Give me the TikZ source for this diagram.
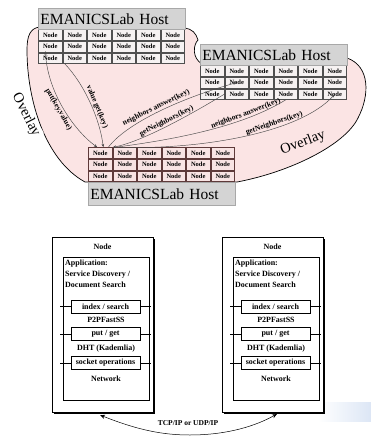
\documentclass[tikz,border=0pt]{standalone}
\usepackage{fontspec}
\setmainfont{Liberation Serif}
\usetikzlibrary{arrows.meta,shadows}
\definecolor{ovpink}{HTML}{FBE4E4}
\definecolor{hdrgray}{HTML}{D4D4D4}
\definecolor{hdrbrd}{HTML}{A8A8A8}
\definecolor{cellbrd}{HTML}{505050}
\definecolor{redbrd}{HTML}{5E3A3A}
\definecolor{cellpink}{HTML}{F8E4E4}
\definecolor{cellwhite}{HTML}{F6F2F2}
\definecolor{linegray}{HTML}{4A4A4A}
\definecolor{artblue}{HTML}{DCE6F5}
\begin{document}
\begin{tikzpicture}[x=1pt,y=-1pt,
  cell/.style={draw=#1, line width=0.5pt, minimum width=23.4pt, minimum height=10.6pt,
    inner sep=0pt, font=\fontsize{6.5}{6.5}\selectfont\bfseries},
  header/.style={draw=hdrbrd, fill=hdrgray, line width=0.6pt, anchor=north west,
    minimum width=147pt, text width=143pt, align=left, inner xsep=2pt, inner ysep=0pt,
    font=\fontsize{15.5}{15.5}\selectfont},
  lbl/.style={inner sep=1pt, sloped, font=\fontsize{7.6}{7.6}\selectfont\bfseries},
  ovl/.style={inner sep=1pt, font=\fontsize{14.5}{14.5}\selectfont},
  conn/.style={draw=linegray, line width=0.45pt},
  tip/.style={-{Stealth[length=3.5pt,width=2.6pt]}},
  outerbox/.style={draw, line width=0.6pt, fill=white, anchor=north west, inner sep=0pt,
    minimum width=101pt, minimum height=175pt,
    drop shadow={shadow xshift=1.6pt, shadow yshift=-1.6pt, fill=black, opacity=1}},
  innerbox/.style={draw, line width=0.5pt, fill=white, anchor=north west, inner sep=0pt,
    minimum width=86pt, minimum height=143pt,
    drop shadow={shadow xshift=1.2pt, shadow yshift=-1.2pt, fill=black, opacity=1}},
  ifbox/.style={draw, line width=0.5pt, fill=white, inner sep=0pt,
    minimum width=69pt, minimum height=13pt, font=\fontsize{8}{8}\selectfont\bfseries},
  boxtext/.style={inner sep=0pt, font=\fontsize{8}{8}\selectfont\bfseries},
  apptext/.style={inner sep=0pt, align=left, font=\fontsize{8}{11}\selectfont\bfseries}
]
\useasboundingbox (0,0) rectangle (371,437);

% ---------- overlay region ----------
\node[ovl, rotate=-63] (ovlA) at (26,115) {Overlay};
\def\overlaypath{(40,27) .. controls (30,28) and (27,36) .. (27,50)
  .. controls (27,100) and (45,160) .. (85,182) -- (237,182)
  .. controls (290,172) and (345,145) .. (358,118)
  .. controls (370,95) and (370,66) .. (347,58) -- (347,64) -- (202,64)
  .. controls (192,58) and (193,45) .. (198,40)
  .. controls (196,33) and (192,29) .. (185,28) -- cycle}
\fill[ovpink] \overlaypath;
\begin{scope}[even odd rule]
  \clip (0,0) rectangle (371,437)
    (ovlA.north west) -- (ovlA.north east) -- (ovlA.south east) -- (ovlA.south west) -- cycle;
  \draw[line width=0.7pt] \overlaypath;
\end{scope}
\node[ovl, rotate=21] (ovlB) at (303,143) {Overlay};

% ---------- hosts ----------
\fill[gray!60] (38,29) rectangle (185,64.1);
\fill[gray!60] (200,65) rectangle (347,100.1);
\fill[redbrd!60] (88,147) rectangle (235,182.1);
\foreach \r in {1,2,3}{
  \foreach \c in {1,...,6}{
    \node[cell=cellbrd, fill=cellwhite] (h1-\r-\c) at ({38+(\c-0.5)*24.5},{29+(\r-0.5)*11.7}) {Node};
    \node[cell=cellbrd, fill=cellwhite] (h2-\r-\c) at ({200+(\c-0.5)*24.5},{65+(\r-0.5)*11.7}) {Node};
    \node[cell=redbrd, fill=cellpink] (h3-\r-\c) at ({88+(\c-0.5)*24.5},{147+(\r-0.5)*11.7}) {Node};
  }
}
\node[header, minimum height=21pt] (head1) at (38,8) {EMANICSLab Host};
\node[header, minimum height=21pt] (head2) at (200,44) {EMANICSLab Host};
\node[header, minimum height=23pt] (head3) at (88,182) {EMANICSLab Host};

% ---------- connectors ----------
\draw[conn, {Stealth[length=3.5pt,width=2.6pt]}-{Stealth[length=3.5pt,width=2.6pt]}]
  ([xshift=7pt,yshift=1pt]h1-2-1.south west) .. controls (48,95) and (76,132) .. ([xshift=9pt]h3-1-1.north west)
  node[lbl, below, pos=0.47] (lput) {put(key,value)};
\draw[conn, tip] ([xshift=2pt]h1-3-2.south west) .. controls (85,85) and (100,120) .. ([xshift=15pt]h3-1-1.north west)
  node[lbl, above, pos=0.56] (lget) {value get(key)};
\draw[conn, tip] ([xshift=20pt]h3-1-1.north west) .. controls (125,125) and (175,100) .. (h2-2-2.center)
  node[lbl, above, pos=0.52] (lna1) {neighbors answer(key)};
\draw[conn, {Stealth[length=3.5pt,width=2.6pt]}-] ([xshift=0.5pt]h3-1-1.north east) .. controls (140,142) and (185,118) .. (h2-3-1.east)
  node[lbl, above, pos=0.54] (lgn1) {getNeighbors(key)};
\draw[conn] ([xshift=3pt]h3-1-1.north east) .. controls (170,140) and (240,128) .. (h2-3-4.south)
  node[lbl, above, pos=0.75] (lna2) {neighbors answer(key)};
\draw[conn, tip] ([xshift=6pt]h3-1-1.north east) .. controls (200,150) and (300,133) .. (h2-3-6.center)
  node[lbl, above, pos=0.64] (lgn2) {getNeighbors(key)};

% ---------- node stacks ----------
\shade[left color=white, right color=artblue] (318,402) rectangle (371,421);
\foreach \dx/\sd in {0/L,170/R}{
  \node[outerbox] (outer\sd) at (52+\dx,237) {};
  \node[boxtext] (title\sd) at (102.5+\dx,247) {Node};
  \node[innerbox] (inner\sd) at (63+\dx,257) {};
  \node[apptext, anchor=north west] (app\sd) at (65+\dx,260) {Application:\\Service Discovery /\\Document Search};
  \node[ifbox] (idx\sd) at (105.5+\dx,306.5) {index / search};
  \node[boxtext] (p2p\sd) at (106+\dx,320) {P2PFastSS};
  \node[ifbox] (put\sd) at (105.5+\dx,334) {put / get};
  \node[boxtext] (dht\sd) at (106+\dx,349) {DHT (Kademlia)};
  \node[ifbox] (sock\sd) at (105.5+\dx,363) {socket operations};
  \node[boxtext] (net\sd) at (106+\dx,379) {Network};
  \foreach \b in {idx,put,sock}{
    \draw[line width=0.5pt] (\b\sd.west) -- ++(-11,0);
    \draw[line width=0.5pt] (\b\sd.east) -- ++(11,0);
  }
}
\coordinate (tipL) at (100,415);
\coordinate (tipR) at (277,414);
\coordinate (cbot) at (190,435);
\draw[line width=0.5pt, {Stealth[length=5pt,width=4pt]}-{Stealth[length=5pt,width=4pt]}]
  (tipL) .. controls (140,431) and (165,435) .. (cbot) .. controls (220,435) and (250,429) .. (tipR);
\node[boxtext, font=\fontsize{7.5}{7.5}\selectfont\bfseries] (tcp) at (188,423) {TCP/IP or UDP/IP};
\end{tikzpicture}
\end{document}
